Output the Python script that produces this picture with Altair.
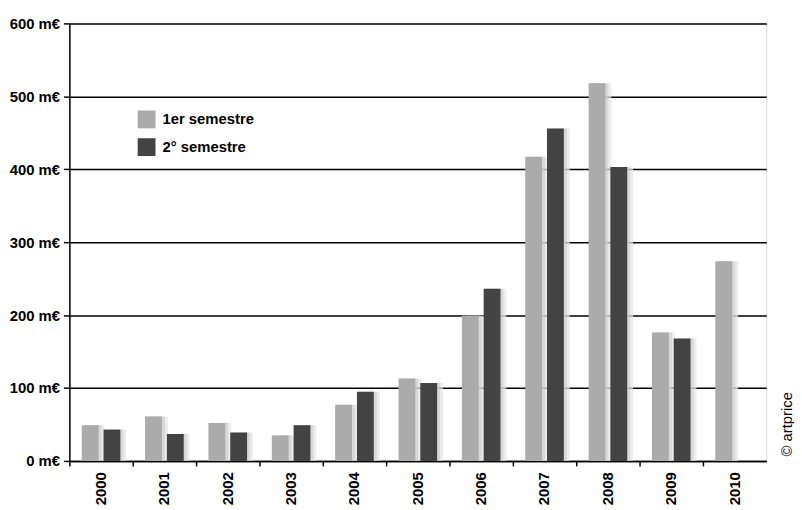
import altair as alt
import pandas as pd

years = ["2000", "2001", "2002", "2003", "2004", "2005", "2006", "2007", "2008", "2009", "2010"]
first = [49, 61, 52, 35, 77, 113, 199, 417, 518, 176, 274]
second = [43, 37, 39, 49, 95, 107, 236, 456, 403, 168, None]
series = ["1er semestre", "2° semestre"]
colors = ["#ababab", "#434343"]

rows = []
for y, a, b in zip(years, first, second):
    rows.append({"annee": y, "sem": series[0], "val": a})
    if b is not None:
        rows.append({"annee": y, "sem": series[1], "val": b})
df = pd.DataFrame(rows)

FONT = "Liberation Sans"
BAND = 64

x = alt.X("annee:N", sort=years, title=None,
          scale=alt.Scale(paddingInner=0, paddingOuter=0),
          axis=alt.Axis(labelAngle=-90, labelAlign="right", labelBaseline="middle",
                        labelFont=FONT, labelFontWeight="bold", labelFontSize=15,
                        labelColor="#000", labelPadding=6, bandPosition=0,
                        tickColor="#000", tickSize=5, tickWidth=1.5,
                        domainColor="#000", domainWidth=1.5, grid=False))


def xo(shift):
    return alt.XOffset("sem:N", sort=series,
                       scale=alt.Scale(paddingInner=0.227, paddingOuter=0.568,
                                       range=[shift, BAND + shift]))


y = alt.Y("val:Q", title=None,
          scale=alt.Scale(domain=[0, 600], nice=False),
          axis=alt.Axis(values=[0, 100, 200, 300, 400, 500, 600],
                        labelExpr="datum.value + ' m€'",
                        labelFont=FONT, labelFontWeight="bold", labelFontSize=15,
                        labelColor="#000", labelPadding=4,
                        tickColor="#000", tickSize=6, tickWidth=1.5,
                        domainColor="#000", domainWidth=1.5,
                        grid=True, gridColor="#000", gridWidth=1.5, gridOpacity=1))

shadow2 = alt.Chart(df).mark_bar(color="#e4e4e4", opacity=0.7).encode(
    x=x, xOffset=xo(6), y=y)
shadow = alt.Chart(df).mark_bar(color="#cccccc", opacity=0.6).encode(
    x=x, xOffset=xo(3), y=y)

bars = alt.Chart(df).mark_bar().encode(
    x=x, xOffset=xo(0), y=y,
    color=alt.Color("sem:N", sort=series,
                    scale=alt.Scale(domain=series, range=colors),
                    legend=alt.Legend(title=None, orient="none", legendX=69, legendY=88,
                                      symbolType="square", symbolSize=324,
                                      symbolStrokeWidth=0, symbolOpacity=1,
                                      labelFont=FONT, labelFontWeight="bold",
                                      labelFontSize=15, labelColor="#000",
                                      labelOffset=7, rowPadding=10, padding=0)))

credit = alt.Chart(pd.DataFrame({"t": ["© artprice"]})).mark_text(
    angle=270, align="center", baseline="middle", font=FONT, fontSize=15, color="#000"
).encode(text="t:N", x=alt.value(725), y=alt.value(405))

chart = alt.layer(shadow2, shadow, bars, credit).resolve_scale(xOffset="independent").properties(
    width=704, height=442,
    autosize=alt.AutoSizeParams(type="none"),
    padding={"left": 62, "top": 13, "right": 28, "bottom": 47},
).configure_view(stroke="#000", strokeWidth=1.5).configure(background="#ffffff")

chart.save("out.html", embed_options={"renderer": "svg", "actions": False})
